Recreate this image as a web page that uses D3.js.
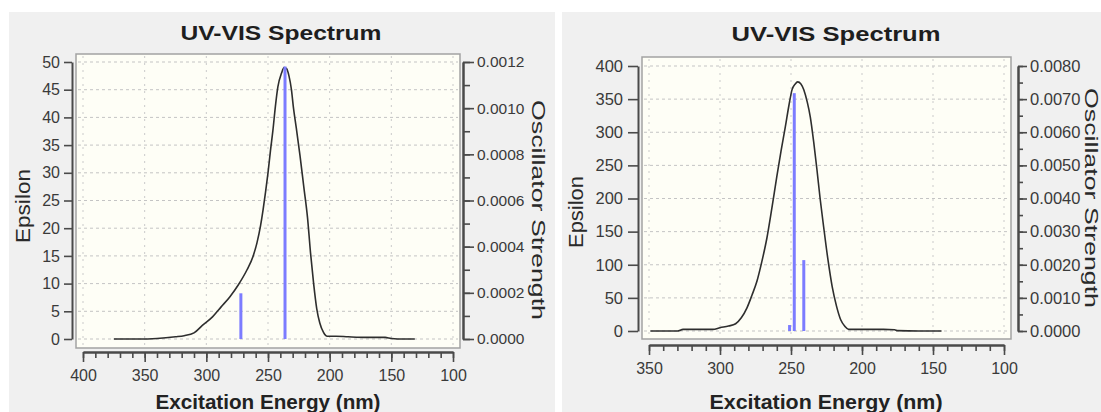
<!DOCTYPE html>
<html>
<head>
<meta charset="utf-8">
<script src="https://cdn.jsdelivr.net/npm/d3@7"></script>
<style>
  html, body { margin: 0; padding: 0; background: #fff; }
  svg { display: block; font-family: "Liberation Sans", Arial, sans-serif; }
</style>
</head>
<body>
<div id="chart"></div>
<script>
// left spectrum: wavelength (nm) vs epsilon
const leftWavelength = [375, 355, 340, 325, 318, 310, 303, 295, 288, 281, 274, 267, 262, 259, 256, 254, 252, 250, 248, 246,
  244, 242, 239, 237, 235, 233, 231, 229.5, 227, 224, 221, 218, 215.5, 213, 210.5, 208, 205, 202, 195, 185, 170, 155, 150, 140, 131];
const leftEpsilon = [0, 0, 0.1, 0.4, 0.6, 1.1, 2.5, 4, 5.8, 7.6, 9.8, 12.5, 15, 17.3, 20.5, 23.3, 26.5, 30, 34, 37.7,
  42, 45.5, 48, 49, 48.8, 47.5, 45, 42, 38, 33, 27.5, 22, 15.5, 10, 5.5, 2.9, 1.2, 0.5, 0.5, 0.4, 0.3, 0.3, 0.1, 0, 0];
// left sticks: wavelength vs oscillator strength
const leftStickNm = [272, 236.2];
const leftStickF = [0.000198, 0.00118];
const leftXTicks = [400, 350, 300, 250, 200, 150, 100];
const leftEpsTicks = [0, 5, 10, 15, 20, 25, 30, 35, 40, 45, 50];
const leftFTicks = [0, 0.0002, 0.0004, 0.0006, 0.0008, 0.0010, 0.0012];

// right spectrum
const rightWavelength = [349, 330, 326, 305, 300, 294, 289, 285, 281, 277.5, 274, 270.5, 267, 263.5, 260, 257, 254, 251.5, 249.3, 247,
  245.3, 243, 241, 238.5, 236.4, 234, 231.7, 229.5, 227, 224, 221, 218, 215, 212, 209.4, 200, 185, 177, 175, 160, 144];
const rightEpsilon = [0, 0, 2.5, 2.5, 5, 7.5, 11, 20, 35, 54, 75, 105, 140, 185, 233, 272, 308, 340, 364, 373,
  376, 373, 364, 345, 323, 285, 243, 200, 157, 108, 67, 38, 17, 7, 2.5, 2.5, 2.5, 2, 0.5, 0, 0];
const rightStickNm = [251, 247.7, 241];
const rightStickF = [0.00018, 0.00718, 0.00214];
const rightXTicks = [350, 300, 250, 200, 150, 100];
const rightEpsTicks = [0, 50, 100, 150, 200, 250, 300, 350, 400];
const rightFTicks = [0, 0.001, 0.002, 0.003, 0.004, 0.005, 0.006, 0.007, 0.008];

const titleText = "UV-VIS Spectrum";
const xTitleText = "Excitation Energy (nm)";
const epsTitleText = "Epsilon";
const fTitleText = "Oscillator Strength";

const W = 1101, H = 412;

const panels = [
  {
    wavelength: leftWavelength, epsilon: leftEpsilon, stickNm: leftStickNm, stickF: leftStickF,
    xTicks: leftXTicks, epsTicks: leftEpsTicks, fTicks: leftFTicks,
    xMinorStep: 10, fMinorStep: 0.0001,
    bg: [9, 12, 546, 400],
    xRange: [83, 453], yRange: [339, 62], pad: {t: 8, r: 7, b: 9, l: 7},
    leftAxisX: 72, leftTick: 8, leftPad: 4, yFont: 16, fFont: 15.5, xFont: 16,
    rightAxisX: 463, rightTick: 11, rightMinor: 7, rightPad: 3,
    bottomAxisY: 352,
    title: [281, 40, 201], xTitle: [268, 409, 225], epsTitle: [30, 206, 74], fTitle: [532, 210, 220]
  },
  {
    wavelength: rightWavelength, epsilon: rightEpsilon, stickNm: rightStickNm, stickF: rightStickF,
    xTicks: rightXTicks, epsTicks: rightEpsTicks, fTicks: rightFTicks,
    xMinorStep: 10, fMinorStep: 0.0005,
    bg: [562, 12, 539, 400],
    xRange: [649, 1004], yRange: [331, 66], pad: {t: 9, r: 7, b: 8, l: 7},
    leftAxisX: 638, leftTick: 10, leftPad: 5, yFont: 16.5, fFont: 16.5, xFont: 16,
    rightAxisX: 1018, rightTick: 9, rightMinor: 5, rightPad: 3,
    bottomAxisY: 345,
    title: [836, 41, 209], xTitle: [826, 409, 233], epsTitle: [583, 212, 72], fTitle: [1085, 198, 220]
  }
];

function styleAxis(sel, fontSize) {
  sel.select(".domain").attr("stroke", "#4a4a4a").attr("stroke-width", 2);
  sel.selectAll(".tick line").attr("stroke", "#4a4a4a").attr("stroke-width", 1.6);
  sel.selectAll(".tick text")
    .attr("fill", "#3a3a3a")
    .style("font-size", fontSize + "px")
    .style("font-family", "'Liberation Sans', Arial, sans-serif");
}

function drawPanel(svg, p) {
  const g = svg.append("g");

  g.append("rect")
    .attr("x", p.bg[0]).attr("y", p.bg[1])
    .attr("width", p.bg[2]).attr("height", p.bg[3])
    .attr("fill", "#f0f0f0");

  const x = d3.scaleLinear()
    .domain([p.xTicks[0], p.xTicks[p.xTicks.length - 1]])
    .range(p.xRange);
  const yEps = d3.scaleLinear().domain([0, d3.max(p.epsTicks)]).range(p.yRange);
  const yF = d3.scaleLinear().domain([0, d3.max(p.fTicks)]).range(p.yRange);

  const box = {
    x0: p.xRange[0] - p.pad.l, x1: p.xRange[1] + p.pad.r,
    y0: p.yRange[1] - p.pad.t, y1: p.yRange[0] + p.pad.b
  };
  g.append("rect")
    .attr("x", box.x0).attr("y", box.y0)
    .attr("width", box.x1 - box.x0).attr("height", box.y1 - box.y0)
    .attr("fill", "#fefef6")
    .attr("stroke", "#a2a2a2")
    .attr("stroke-width", 1.5);

  // grid
  g.append("g").selectAll("line").data(p.epsTicks).join("line")
    .attr("x1", box.x0 + 2).attr("x2", box.x1 - 2)
    .attr("y1", d => yEps(d)).attr("y2", d => yEps(d))
    .attr("stroke", "#c4c4c4").attr("stroke-width", 1)
    .attr("stroke-dasharray", "3,3");
  g.append("g").selectAll("line").data(p.xTicks).join("line")
    .attr("x1", d => x(d)).attr("x2", d => x(d))
    .attr("y1", box.y0 + 2).attr("y2", box.y1 - 2)
    .attr("stroke", "#cacaca").attr("stroke-width", 1)
    .attr("stroke-dasharray", "2,5");

  // spectrum curve
  const line = d3.line()
    .x(d => x(d[0]))
    .y(d => yEps(d[1]))
    .curve(d3.curveMonotoneX);
  g.append("path")
    .datum(d3.zip(p.wavelength, p.epsilon))
    .attr("fill", "none")
    .attr("stroke", "#2e2e2e")
    .attr("stroke-width", 1.6)
    .attr("d", line);

  // oscillator sticks
  g.append("g").selectAll("line").data(d3.zip(p.stickNm, p.stickF)).join("line")
    .attr("x1", d => x(d[0])).attr("x2", d => x(d[0]))
    .attr("y1", yF(0)).attr("y2", d => yF(d[1]))
    .attr("stroke", "#7c7cff")
    .attr("stroke-width", 3);

  // left axis (epsilon)
  const la = g.append("g")
    .attr("transform", `translate(${p.leftAxisX},0)`)
    .call(d3.axisLeft(yEps).tickValues(p.epsTicks).tickSize(p.leftTick)
      .tickPadding(p.leftPad).tickSizeOuter(0).tickFormat(d3.format("d")));
  styleAxis(la, p.yFont);

  // right axis (oscillator strength)
  const fMax = d3.max(p.fTicks);
  const fMinor = d3.range(0, fMax + p.fMinorStep / 2, p.fMinorStep);
  const raMinor = g.append("g")
    .attr("transform", `translate(${p.rightAxisX},0)`)
    .call(d3.axisRight(yF).tickValues(fMinor).tickSize(p.rightMinor).tickSizeOuter(0).tickFormat(""));
  styleAxis(raMinor, p.fFont);
  const ra = g.append("g")
    .attr("transform", `translate(${p.rightAxisX},0)`)
    .call(d3.axisRight(yF).tickValues(p.fTicks).tickSize(p.rightTick)
      .tickPadding(p.rightPad).tickSizeOuter(0).tickFormat(d3.format(".4f")));
  styleAxis(ra, p.fFont);

  // bottom axis
  const xLo = d3.min(p.xTicks), xHi = d3.max(p.xTicks);
  const xMinor = d3.range(xLo, xHi + 1, p.xMinorStep);
  const baMinor = g.append("g")
    .attr("transform", `translate(0,${p.bottomAxisY})`)
    .call(d3.axisBottom(x).tickValues(xMinor).tickSize(6).tickSizeOuter(0).tickFormat(""));
  styleAxis(baMinor, p.xFont);
  const ba = g.append("g")
    .attr("transform", `translate(0,${p.bottomAxisY})`)
    .call(d3.axisBottom(x).tickValues(p.xTicks).tickSize(10).tickPadding(8)
      .tickSizeOuter(0).tickFormat(d3.format("d")));
  styleAxis(ba, p.xFont);

  // titles
  g.append("text")
    .attr("x", p.title[0]).attr("y", p.title[1])
    .attr("text-anchor", "middle")
    .attr("textLength", p.title[2]).attr("lengthAdjust", "spacingAndGlyphs")
    .attr("fill", "#1e1e1e")
    .style("font-size", "21px").style("font-weight", "bold")
    .text(titleText);
  g.append("text")
    .attr("x", p.xTitle[0]).attr("y", p.xTitle[1])
    .attr("text-anchor", "middle")
    .attr("textLength", p.xTitle[2]).attr("lengthAdjust", "spacingAndGlyphs")
    .attr("fill", "#222")
    .style("font-size", "20px").style("font-weight", "bold")
    .text(xTitleText);
  g.append("text")
    .attr("transform", `translate(${p.epsTitle[0]},${p.epsTitle[1]}) rotate(-90)`)
    .attr("text-anchor", "middle")
    .attr("textLength", p.epsTitle[2]).attr("lengthAdjust", "spacingAndGlyphs")
    .attr("fill", "#2a2a2a")
    .style("font-size", "20px")
    .text(epsTitleText);
  g.append("text")
    .attr("transform", `translate(${p.fTitle[0]},${p.fTitle[1]}) rotate(90)`)
    .attr("text-anchor", "middle")
    .attr("textLength", p.fTitle[2]).attr("lengthAdjust", "spacingAndGlyphs")
    .attr("fill", "#2a2a2a")
    .style("font-size", "19px")
    .text(fTitleText);
}

function initChart(selector) {
  const svg = d3.select(selector).append("svg")
    .attr("width", W)
    .attr("height", H);
  svg.append("rect").attr("width", W).attr("height", H).attr("fill", "#fff");
  panels.forEach(p => drawPanel(svg, p));
}

document.addEventListener("DOMContentLoaded", function () {
  initChart("#chart");
});
</script>
</body>
</html>
